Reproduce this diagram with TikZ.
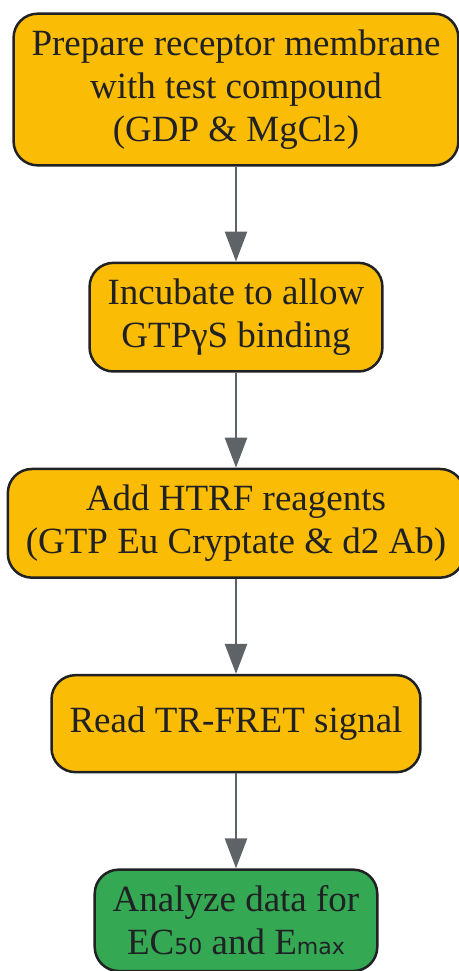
\documentclass[tikz,border=0pt]{standalone}
\usepackage{fontspec}
\setmainfont{Liberation Serif}
\newfontfamily\subfont{DejaVu Sans}
\usetikzlibrary{arrows.meta}
\usetikzlibrary{positioning}
\definecolor{stageyellow}{HTML}{FBBC05}
\definecolor{stagegreen}{HTML}{34A853}
\definecolor{edgegray}{HTML}{5F6368}
\definecolor{inkdark}{HTML}{202124}
\newcommand{\lowidx}[1]{{\subfont\fontsize{11}{12}\selectfont #1}}
\tikzset{
    stage/.style={
           rectangle,
           rounded corners=12pt,
           draw=inkdark, line width=1.25pt,
           fill=stageyellow,
           text=inkdark,
           minimum height=48.5pt,
           inner xsep=9pt, inner ysep=8pt,
           align=center,
           font=\fontsize{18.5}{21.5}\selectfont,
           },
    flow/.style={draw=edgegray},
}

\begin{document}
\begin{tikzpicture}[->,>={Triangle[length=15pt,width=11pt]},node distance=47.5pt,
                    line width=1.25pt]
  \useasboundingbox (-118pt,44.75pt) rectangle (111.5pt,-440.75pt);

  \node[stage]                  (prep)                     {Prepare receptor membrane\\with test compound\\(GDP \& MgCl\lowidx{2})};
  \node[stage]                  (incub)    [below=of prep]     {Incubate to allow\\GTPγS binding};
  \node[stage]                  (reagents) [below=of incub]    {Add HTRF reagents\\(GTP Eu Cryptate \& d2 Ab)};
  \node[stage]                  (readout)  [below=of reagents] {Read TR-FRET signal};
  \node[stage,fill=stagegreen]  (analyze)  [below=of readout]  {Analyze data for\\EC\lowidx{50} and E\lowidx{max}};

  \path (prep)     edge[flow] (incub)
        (incub)    edge[flow] (reagents)
        (reagents) edge[flow] (readout)
        (readout)  edge[flow] (analyze);
\end{tikzpicture}
\end{document}
